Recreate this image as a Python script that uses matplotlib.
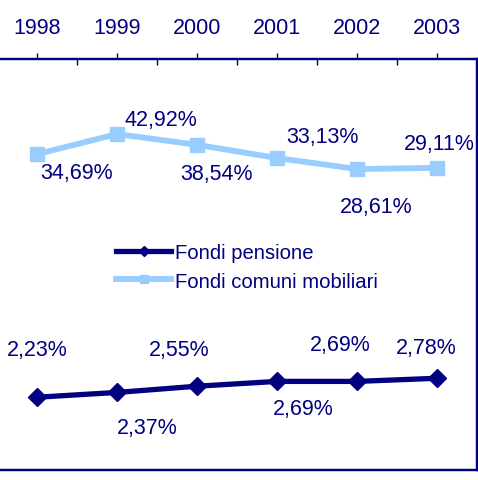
import matplotlib

matplotlib.use("Agg")
import matplotlib.pyplot as plt

plt.rcParams["font.family"] = ["Liberation Sans", "DejaVu Sans"]

NAVY = "#000080"
LIGHT = "#99CCFF"

years = ["1998", "1999", "2000", "2001", "2002", "2003"]
pensione = [2.23, 2.37, 2.55, 2.69, 2.69, 2.78]
comuni = [34.69, 42.92, 38.54, 33.13, 28.61, 29.11]
# label offsets from each marker, in pixels (dx, dy up)
pens_off = [(0, 48), (30, -35), (-18, 37), (26, -27), (-17, 37), (-11, 31)]
com_off = [(40, -18), (44, 15), (19, -29), (45, 22), (19, -37), (2, 24)]


def pct(v):
    return f"{v:.2f}".replace(".", ",") + "%"


W, H = 478, 481
fig = plt.figure(figsize=(W / 100, H / 100), dpi=100)
ax = fig.add_axes([-3 / W, 10 / H, 480 / W, 411 / H])
ax2 = ax.twinx()

x = list(range(len(years)))
ax.set_xlim(-0.5, len(years) - 0.5)

ax.plot(x, pensione, color=NAVY, lw=3.8, marker="D", ms=9,
        label="Fondi pensione", zorder=3)
ax2.plot(x, comuni, color=LIGHT, lw=4.2, marker="s", ms=10.5,
         label="Fondi comuni mobiliari", zorder=3)
ax.set_ylim(0.12, 12.04)
ax2.set_ylim(-94.4, 73.6)

FS = 15.5
for xi, v, (dx, dy) in zip(x, pensione, pens_off):
    ax.annotate(pct(v), (xi, v), xytext=(dx, dy), textcoords="offset pixels",
                ha="center", va="center", fontsize=FS, color=NAVY)
for xi, v, (dx, dy) in zip(x, comuni, com_off):
    ax2.annotate(pct(v), (xi, v), xytext=(dx, dy), textcoords="offset pixels",
                 ha="center", va="center", fontsize=FS, color=NAVY)

for a in (ax, ax2):
    a.set_yticks([])
    a.spines["left"].set_visible(False)
    for s in ("top", "right", "bottom"):
        a.spines[s].set_color(NAVY)
        a.spines[s].set_linewidth(1.6)

ax.xaxis.tick_top()
ax.set_xticks(x)
ax.set_xticklabels(years, fontsize=FS, color=NAVY)
ax.set_xticks([i + 0.5 for i in x[:-1]], minor=True)
ax.tick_params(axis="x", which="major", direction="out", length=4,
               width=1, color=NAVY, pad=11)
ax.tick_params(axis="x", which="minor", direction="in", length=4.5,
               width=1, color=NAVY)

h1, l1 = ax.get_legend_handles_labels()
h2, l2 = ax2.get_legend_handles_labels()
leg = fig.legend(h1 + h2, l1 + l2, loc="center left",
                 bbox_to_anchor=(106 / W, 1 - 268 / H), frameon=False,
                 fontsize=14.6, borderpad=0, handlelength=2.7,
                 handletextpad=0.2, labelspacing=0.45, markerscale=0.6)
for t in leg.get_texts():
    t.set_color(NAVY)

fig.savefig("out.png", dpi=100)
